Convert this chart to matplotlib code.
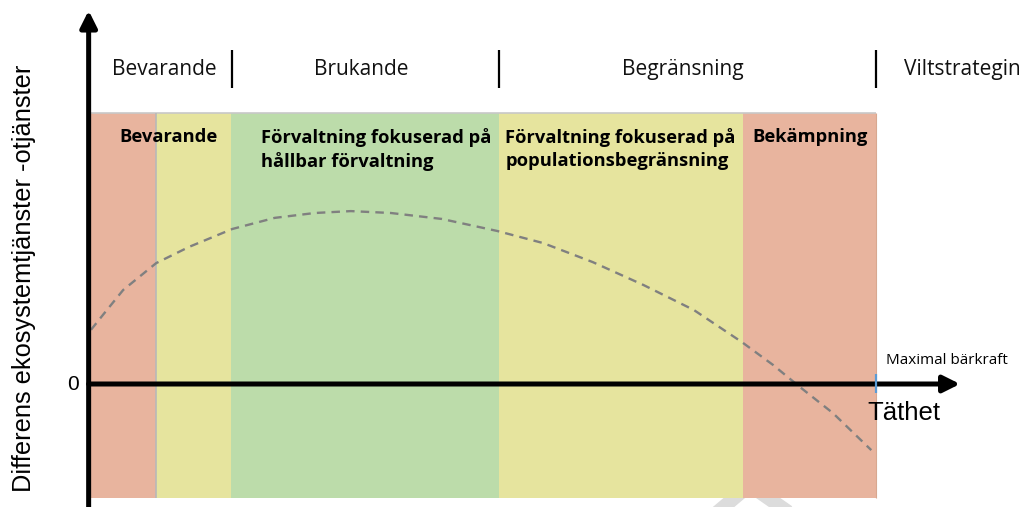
import matplotlib
matplotlib.use('Agg')
import matplotlib.pyplot as plt

# band definitions (density, 0 = origin, 100 = maximal bärkraft)
band_edges = [0, 8.3, 17.8, 52.0, 83.1, 100]
band_colors = ['#E8B49E', '#E6E49E', '#BCDCAA', '#E6E49E', '#E8B49E']
band_top = 100
band_bottom = -42

# bold texts inside the bands
band_labels = ['Bevarande', 'Förvaltning fokuserad på\nhållbar förvaltning',
               'Förvaltning fokuserad på\npopulationsbegränsning', 'Bekämpning']
band_label_x = [3.6, 21.6, 52.8, 84.2]

# strategy labels on top
strategy_names = ['Bevarande', 'Brukande', 'Begränsning', 'Viltstrategin']
strategy_centers = [9.4, 34.4, 75.4, 111.0]
strategy_seps = [18.0, 52.0, 100]

# dashed curve
density = [0, 1.8, 4.1, 8.3, 12.5, 18.0, 23.4, 28.5, 33.1, 38.2, 44.7,
           51.7, 57.6, 63.9, 70.4, 76.8, 82.9, 86.9, 90.3, 94.5, 99.4]
diff = [20, 26.5, 34.7, 44.6, 50.6, 57.2, 61.3, 63.1, 63.8, 63.1, 60.9,
        56.5, 52.0, 45.0, 36.5, 27.3, 15.5, 7.0, -1.1, -10.7, -24.4]

XS = 7.85  # px per density unit
YS = 2.71  # px per value unit
X0, Y0 = 91, 384  # pixel position of origin
W, H = 1027, 507


def main():
    fig = plt.figure(figsize=(W / 100, H / 100), dpi=100)
    ax = fig.add_axes([0, 0, 1, 1])
    ax.set_xlim(-X0 / XS, (W - X0) / XS)
    ax.set_ylim(-(H - Y0) / YS, Y0 / YS)
    ax.axis('off')

    # faint watermark at the bottom
    ax.plot([79.1, 83.9, 89.7], [-49, -37.3, -49], color='#dcdcdc', lw=10,
            solid_joinstyle='miter', zorder=0)

    # colour bands
    starts = band_edges[:-1]
    widths = [b - a for a, b in zip(band_edges[:-1], band_edges[1:])]
    ax.bar(starts, band_top - band_bottom, width=widths, bottom=band_bottom,
           align='edge', color=band_colors, edgecolor='none', zorder=1)
    ax.hlines(band_top, 0, 100, color='#c8c8c8', lw=1.2, zorder=2)
    ax.vlines(band_edges[1], band_bottom, band_top, color='#b8b8b8', lw=1.2, zorder=2)
    ax.vlines(100, band_bottom, band_top, color='#d8a890', lw=0.8, zorder=2)

    # band texts
    for x, lab in zip(band_label_x, band_labels):
        ax.text(x, 94.6, lab, ha='left', va='top', fontsize=13.2,
                fontweight='bold', family='Open Sans', linespacing=1.36,
                zorder=4)

    # strategy header
    for c, name in zip(strategy_centers, strategy_names):
        ax.text(c, 116.2, name, ha='center', va='center', fontsize=15,
                family='Open Sans', color='#111111')
    ax.vlines(strategy_seps, 109.2, 123.2, color='black', lw=1.6)

    # dashed curve
    ax.plot(density, diff, color='#808080', lw=1.7, linestyle=(0, (3.6, 2.6)),
            zorder=3)

    # axes with arrows
    arrow = dict(arrowstyle='-|>,head_length=1.0,head_width=0.5', lw=3.6,
                 color='black', shrinkA=0, shrinkB=0)
    ax.annotate('', xy=(110.7, 0), xytext=(-0.3, 0), arrowprops=arrow, zorder=5)
    ax.annotate('', xy=(-0.3, 137.8), xytext=(-0.3, -45.4), arrowprops=arrow,
                zorder=5)

    # carrying capacity mark
    ax.vlines(100, -3.3, 3.7, color='#5B9BD5', lw=1.6, zorder=6)
    ax.text(101.3, 8.6, 'Maximal bärkraft', ha='left', va='center',
            fontsize=11, family='Open Sans')
    ax.text(98.9, -10.7, 'Täthet', ha='left', va='center', fontsize=18.5,
            family='Liberation Sans')
    ax.text(-2.3, 0, '0', ha='center', va='center', fontsize=15,
            family='Liberation Sans')
    ax.text(-8.5, 39, 'Differens ekosystemtjänster -otjänster', rotation=90,
            ha='center', va='center', fontsize=18.3, family='Liberation Sans')

    fig.savefig('out.png', dpi=100)


if __name__ == '__main__':
    main()
